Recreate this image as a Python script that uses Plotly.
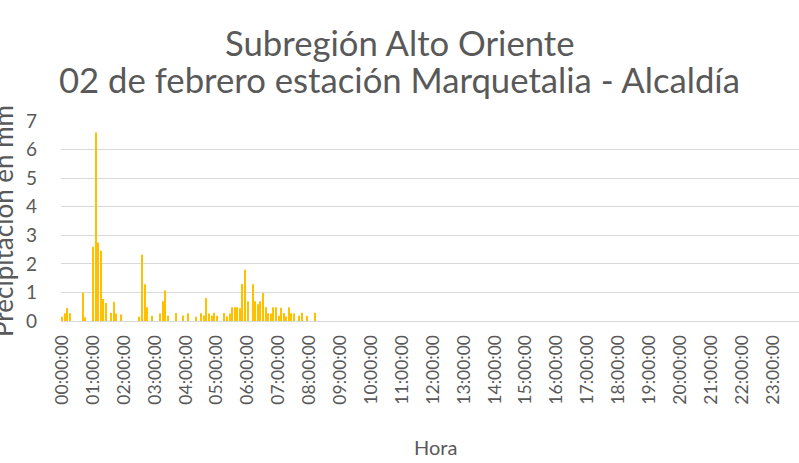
import plotly.graph_objects as go

# 5-minute categories for the whole day
times = [f"{h:02d}:{m:02d}:00" for h in range(24) for m in range(0, 60, 5)]
hour_labels = [f"{h:02d}:00:00" for h in range(24)]

# precipitation (mm), 00:00 .. 08:10
values_morning = [
    0.15, 0.27, 0.45, 0.27, 0, 0, 0, 0, 1.0, 0.13, 0, 0,
    2.6, 6.6, 2.75, 2.46, 0.77, 0.63, 0, 0.28, 0.67, 0.26, 0, 0.23,
    0, 0, 0, 0, 0, 0, 0.15, 2.32, 1.29, 0.48, 0, 0.18,
    0, 0, 0.26, 0.69, 1.08, 0.18, 0, 0, 0.28, 0, 0, 0.19,
    0, 0.27, 0, 0, 0.15, 0, 0.27, 0.19, 0.8, 0.26, 0.18, 0.29,
    0.18, 0, 0, 0.28, 0.16, 0.26, 0.48, 0.48, 0.48, 0.45, 1.29, 1.79,
    0.69, 0, 1.29, 0.69, 0.59, 0.69, 0.98, 0.48, 0.27, 0.26, 0.48, 0.48,
    0.18, 0.46, 0.28, 0.16, 0.48, 0.27, 0.26, 0, 0.18, 0.29, 0, 0.18,
    0, 0, 0.29,
]
values_rest = [0] * (len(times) - len(values_morning))
values = values_morning + values_rest

title_lines = ["Subregión Alto Oriente", "02 de febrero estación Marquetalia - Alcaldía"]
x_title = "Hora"
y_title = "Precipitación en mm"

FONT = "Lato"
GRAY = "#595959"
W, H = 799, 463
M_L, M_T, M_B = 60.7, 120.7, 142

fig = go.Figure()
fig.add_trace(go.Bar(x=times, y=values, marker=dict(color="#FFC000", line=dict(width=0))))

xc = (W / 2 - M_L) / (W - M_L)
fig.update_layout(
    width=W, height=H,
    paper_bgcolor="white", plot_bgcolor="white",
    margin=dict(l=M_L, r=0, t=M_T, b=M_B, autoexpand=False),
    bargap=0.55,
    showlegend=False,
    font=dict(family=FONT, color=GRAY, size=17),
    xaxis=dict(
        type="category",
        categoryorder="array", categoryarray=times,
        range=[-0.5, 286.1],
        tickmode="array", tickvals=hour_labels, ticktext=hour_labels,
        tickangle=-90,
        showgrid=False, zeroline=False,
        showline=True, linecolor="#D9D9D9", linewidth=1,
        ticks="", ticklabelstandoff=6,
        tickfont=dict(family=FONT, size=17.5, color=GRAY),
        automargin=False,
    ),
    yaxis=dict(
        range=[0, 7], dtick=1,
        showgrid=True, gridcolor="#D9D9D9", gridwidth=1,
        zeroline=False, ticks="", ticklabelstandoff=23,
        tickfont=dict(family=FONT, size=19, color=GRAY),
        automargin=False,
    ),
    annotations=[
        dict(text=title_lines[0], xref="paper", yref="paper", x=xc, y=1,
             yshift=M_T - 42, xanchor="center", yanchor="middle", showarrow=False,
             font=dict(family=FONT, size=34.7, color=GRAY)),
        dict(text=title_lines[1], xref="paper", yref="paper", x=xc, y=1,
             yshift=M_T - 79, xanchor="center", yanchor="middle", showarrow=False,
             font=dict(family=FONT, size=34.7, color=GRAY)),
        dict(text=x_title, xref="paper", yref="paper", x=(435 - M_L) / (W - M_L), y=0,
             yshift=-126, xanchor="center", yanchor="middle", showarrow=False,
             font=dict(family=FONT, size=20, color=GRAY)),
        dict(text=y_title, xref="paper", yref="paper", x=0, y=0.5,
             xshift=-58, yshift=0, xanchor="center", yanchor="middle", textangle=-90,
             showarrow=False, font=dict(family=FONT, size=26, color=GRAY)),
    ],
)

fig.write_html("out.html", config={"displayModeBar": False},
               post_script="document.body.style.margin='0';document.body.style.padding='0';")
